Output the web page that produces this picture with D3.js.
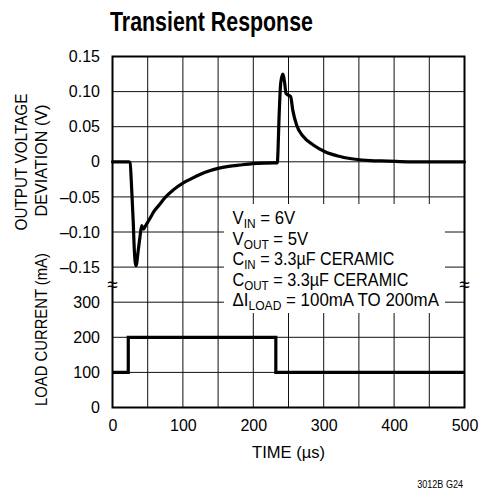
<!DOCTYPE html>
<html>
<head>
<meta charset="utf-8">
<script src="https://cdn.jsdelivr.net/npm/d3@7"></script>
<style>
  html, body { margin: 0; padding: 0; background: #fff; }
  svg { display: block; }
  text { font-family: "Liberation Sans", Arial, Helvetica, sans-serif; fill: #000; }
</style>
</head>
<body>
<svg id="chart" width="482" height="493"></svg>
<script>
// ---------- data ----------
const timeTicks = [0, 100, 200, 300, 400, 500];
const timeGrid = [0, 50, 100, 150, 200, 250, 300, 350, 400, 450, 500];
const voltTicks = [0.15, 0.10, 0.05, 0, -0.05, -0.10, -0.15];
const voltTickLabels = ["0.15", "0.10", "0.05", "0", "\u20130.05", "\u20130.10", "\u20130.15"];
const currTicks = [300, 200, 100, 0];
const currTickLabels = ["300", "200", "100", "0"];

const voltTime = [0, 23, 24.9, 27.3, 29.5, 31, 33.4, 36.6, 39, 41.5,
  43.8, 46.5, 50, 53.3, 58, 67.5, 74.6, 86.4, 100.6, 112,
  124.3, 137, 149.9, 165, 181, 199.6, 215, 230, 234, 237,
  238.9, 241.8, 244.6, 246.4, 249.7, 253, 256, 261.6, 271, 285.2,
  301.8, 318.5, 342, 365.8, 391.8, 420, 500];
const voltDev = [0, 0, -0.001, -0.04, -0.087, -0.126, -0.148, -0.126, -0.107, -0.091,
  -0.096, -0.092, -0.086, -0.0805, -0.072, -0.060, -0.051, -0.040, -0.030, -0.024,
  -0.018, -0.013, -0.0093, -0.0065, -0.0046, -0.0027, -0.0019, -0.0015, -0.0015, 0.074,
  0.112, 0.125, 0.112, 0.0976, 0.095, 0.093, 0.074, 0.052, 0.036, 0.024,
  0.0144, 0.0087, 0.004, 0.0016, 0.001, 0, 0];

const currTime = [0, 22.4, 22.4, 232, 232, 500];
const currLoad = [100, 100, 200, 200, 100, 100];

const titleText = "Transient Response";
const xLabel = "TIME (\u00B5s)";
const yLabelTop = ["OUTPUT VOLTAGE", "DEVIATION (V)"];
const yLabelBottom = "LOAD CURRENT (mA)";
const footnote = "3012B G24";
const notes = [
  [["V", 0], ["IN", 1], [" = 6V", 0]],
  [["V", 0], ["OUT", 1], [" = 5V", 0]],
  [["C", 0], ["IN", 1], [" = 3.3\u00B5F CERAMIC", 0]],
  [["C", 0], ["OUT", 1], [" = 3.3\u00B5F CERAMIC", 0]],
  [["\u0394I", 0], ["LOAD", 1], [" = 100mA TO 200mA", 0]]
];

// ---------- layout ----------
const svg = d3.select("#chart");
const L = 112.5, R = 464.5, T = 56.5, B = 407.5;
const rowH = (B - T) / 10;

const x = d3.scaleLinear().domain([0, 500]).range([L, R]);
const yV = d3.scaleLinear().domain([-0.15, 0.15]).range([T + 6 * rowH, T]);
const yI = d3.scaleLinear().domain([0, 300]).range([B, T + 7 * rowH]);

function fit(sel, w) {
  const cur = sel.node().getBBox().width;
  return cur > 0 ? w / cur : 1;
}

// grid
const grid = svg.append("g").attr("stroke", "#111").attr("stroke-width", 1);
grid.selectAll("line.v").data(timeGrid).join("line")
  .attr("x1", d => x(d)).attr("x2", d => x(d)).attr("y1", T).attr("y2", B);
grid.selectAll("line.hv").data(voltTicks).join("line")
  .attr("x1", L).attr("x2", R).attr("y1", d => yV(d)).attr("y2", d => yV(d));
grid.selectAll("line.hi").data(currTicks).join("line")
  .attr("x1", L).attr("x2", R).attr("y1", d => yI(d)).attr("y2", d => yI(d));

// annotation box
svg.append("rect").attr("x", 224).attr("y", 204).attr("width", 221).attr("height", 109).attr("fill", "#fff");

const ann = svg.append("g");
notes.forEach((parts, i) => {
  const t = ann.append("text").attr("font-size", 17.5);
  parts.forEach(p => {
    const ts = t.append("tspan").text(p[0]);
    if (p[1]) ts.attr("font-size", 12.5).attr("dy", 4);
    else ts.attr("dy", ts.node().previousSibling ? -4 : 0);
  });
  const targets = [63, 76, 162, 176, 207];
  const k = fit(t, targets[i]);
  t.attr("transform", `translate(232.5,${224 + 20.5 * i}) scale(${k},1)`);
});

// traces
const lineV = d3.line().x(d => x(d[0])).y(d => yV(d[1])).curve(d3.curveMonotoneX);
svg.append("path").datum(d3.zip(voltTime, voltDev)).attr("d", lineV)
  .attr("fill", "none").attr("stroke", "#000").attr("stroke-width", 3.2)
  .attr("stroke-linejoin", "round").attr("stroke-linecap", "round");

const lineI = d3.line().x(d => x(d[0])).y(d => yI(d[1]));
svg.append("path").datum(d3.zip(currTime, currLoad)).attr("d", lineI)
  .attr("fill", "none").attr("stroke", "#000").attr("stroke-width", 3.2)
  .attr("stroke-linejoin", "miter");

// frame
svg.append("rect").attr("x", L).attr("y", T).attr("width", R - L).attr("height", B - T)
  .attr("fill", "none").attr("stroke", "#000").attr("stroke-width", 2);

// break marks
[L, R].forEach(bx => {
  svg.append("text").attr("x", bx).attr("y", 291).attr("text-anchor", "middle")
    .attr("font-size", 19).text("\u2248");
});

// axes
const axV = d3.axisLeft(yV).tickValues(voltTicks).tickSize(0).tickPadding(12.5)
  .tickFormat((d, i) => voltTickLabels[i]);
const gV = svg.append("g").attr("transform", `translate(${L},0)`).call(axV);
const axI = d3.axisLeft(yI).tickValues(currTicks).tickSize(0).tickPadding(12.5)
  .tickFormat((d, i) => currTickLabels[i]);
const gI = svg.append("g").attr("transform", `translate(${L},0)`).call(axI);
const axX = d3.axisBottom(x).tickValues(timeTicks).tickSize(0).tickPadding(12.5);
const gX = svg.append("g").attr("transform", `translate(0,${B})`).call(axX);
[gV, gI, gX].forEach(g => {
  g.select(".domain").remove();
  g.selectAll("text").attr("font-size", 16).attr("font-family", "\"Liberation Sans\", Arial, sans-serif").attr("fill", "#000");
});

// title
const title = svg.append("text").attr("font-size", 28).attr("font-weight", "bold").text(titleText);
title.attr("transform", `translate(110,31) scale(${fit(title, 203)},1)`);

// x label
const xl = svg.append("text").attr("font-size", 16.5).attr("text-anchor", "middle").text(xLabel);
xl.attr("transform", `translate(288.5,458) scale(${fit(xl, 73)},1)`);

// y labels
const yl1 = svg.append("text").attr("font-size", 16).attr("text-anchor", "middle").text(yLabelTop[0]);
yl1.attr("transform", `translate(27,162) rotate(-90) scale(${fit(yl1, 137)},1)`);
const yl2 = svg.append("text").attr("font-size", 16).attr("text-anchor", "middle").text(yLabelTop[1]);
yl2.attr("transform", `translate(47,160.5) rotate(-90) scale(${fit(yl2, 112)},1)`);
const yl3 = svg.append("text").attr("font-size", 16).attr("text-anchor", "middle").text(yLabelBottom);
yl3.attr("transform", `translate(47,329.5) rotate(-90) scale(${fit(yl3, 153)},1)`);

// footnote
const fn = svg.append("text").attr("font-size", 10.5).attr("text-anchor", "end").text(footnote);
fn.attr("transform", `translate(463,488) scale(${fit(fn, 46)},1)`);
</script>
</body>
</html>
